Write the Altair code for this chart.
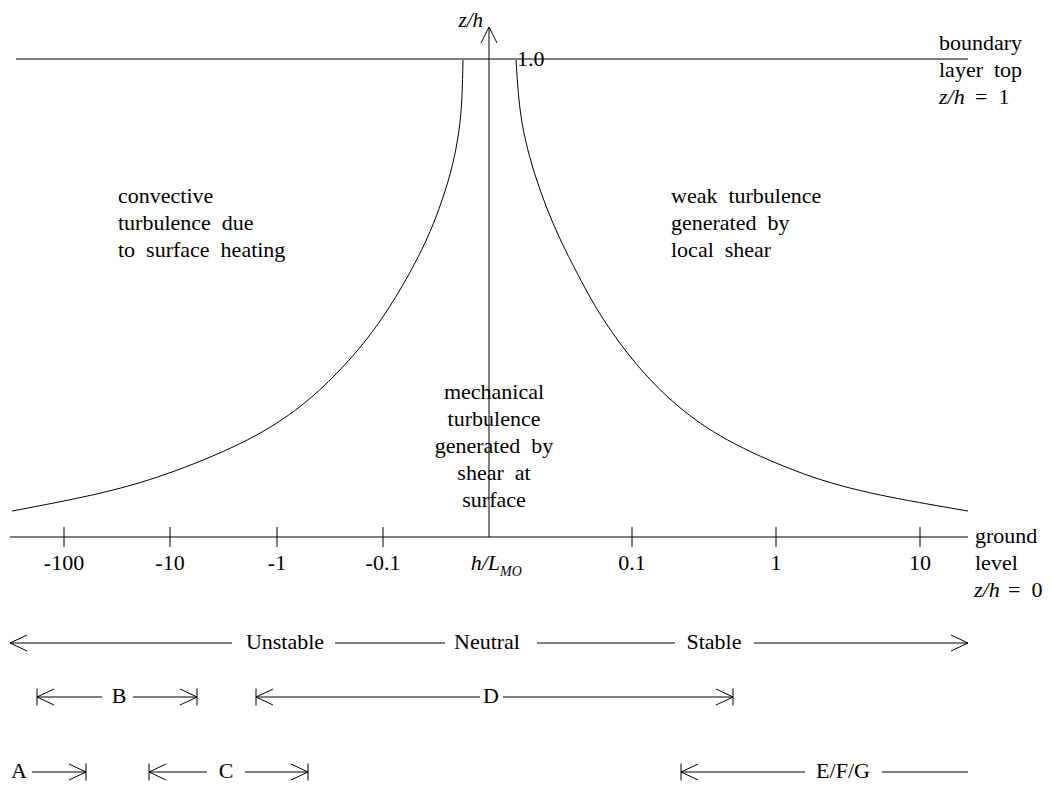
import altair as alt
import pandas as pd

# ---------------- diagram geometry (reference pixel frame) ----------------
W, H = 1035, 775
FONT = "Liberation Serif"
FS = 22

# boundary-layer top and ground level
top_y, ground_y = 59, 537
top_x = [16, 968]
ground_x = [10, 968]
axis_x, axis_top = 489, 27

# h/L_MO tick marks and labels
tick_labels = ["-100", "-10", "-1", "-0.1", "0.1", "1", "10"]
tick_x = [64, 170, 277, 383, 632, 776, 920]

# stability-regime curves
left_curve_x = [12, 107, 173, 252, 302, 338, 367, 390, 410, 427, 440, 451, 458, 462, 463]
left_curve_y = [511, 493, 473, 440, 407, 373, 340, 307, 273, 240, 207, 173, 140, 107, 60]
right_curve_x = [516, 519, 525, 534, 546, 560, 577, 595, 617, 643, 677, 723, 797, 863, 968]
right_curve_y = [60, 107, 140, 173, 207, 240, 273, 307, 340, 373, 407, 440, 473, 493, 511]

# bottom range arrows: row level, line pieces, end markers, labels
row_y = [643, 697, 772]
row_lines = [
    [(10, 232), (335, 445), (537, 675), (754, 968)],
    [(37, 102), (133, 197), (256, 480), (503, 733)],
    [(32, 86), (149, 207), (245, 308), (681, 805), (882, 968)],
]
# (x, direction, with_bar)
row_heads = [
    [(10, "left", False), (968, "right", False)],
    [(37, "left", True), (197, "right", True), (256, "left", True), (733, "right", True)],
    [(86, "right", True), (149, "left", True), (308, "right", True), (681, "left", True)],
]
row_labels = [
    [("Unstable", 285), ("Neutral", 487), ("Stable", 714)],
    [("B", 119), ("D", 491)],
    [("A", 19), ("C", 226), ("E/F/G", 843)],
]

# ---------------- build segment table ----------------
segs = []


def seg(x1, y1, x2, y2):
    segs.append({"x": x1, "y": y1, "x2": x2, "y2": y2})


seg(top_x[0], top_y, top_x[1], top_y)
seg(ground_x[0], ground_y, ground_x[1], ground_y)
seg(axis_x, ground_y, axis_x, axis_top)
seg(axis_x, axis_top, axis_x - 8, axis_top + 16)
seg(axis_x, axis_top, axis_x + 8, axis_top + 16)
for tx in tick_x:
    seg(tx, ground_y - 10, tx, ground_y + 10)

HX, HY, BAR = 17, 8, 8.5
for ry, lines, heads in zip(row_y, row_lines, row_heads):
    for a, b in lines:
        seg(a, ry, b, ry)
    for hx, d, bar in heads:
        s = 1 if d == "left" else -1
        seg(hx, ry, hx + s * HX, ry - HY)
        seg(hx, ry, hx + s * HX, ry + HY)
        if bar:
            seg(hx, ry - BAR, hx, ry + BAR)

seg_df = pd.DataFrame(segs)

curve_df = pd.concat([
    pd.DataFrame({"x": left_curve_x, "y": left_curve_y, "c": "left",
                  "o": range(len(left_curve_x))}),
    pd.DataFrame({"x": right_curve_x, "y": right_curve_y, "c": "right",
                  "o": range(len(right_curve_x))}),
])

# ---------------- texts ----------------
left_texts = [
    ("convective", 118, 203),
    ("turbulence\u00a0\u00a0due", 118, 230),
    ("to\u00a0\u00a0surface\u00a0\u00a0heating", 118, 257),
    ("weak\u00a0\u00a0turbulence", 671, 203),
    ("generated\u00a0\u00a0by", 671, 230),
    ("local\u00a0\u00a0shear", 671, 257),
    ("boundary", 939, 50),
    ("layer\u00a0\u00a0top", 939, 77),
    ("=\u00a0\u00a01", 975, 104),
    ("ground", 975, 543),
    ("level", 975, 570),
    ("=\u00a0\u00a00", 1008, 597),
    ("1.0", 517, 66),
]
center_texts = [
    ("mechanical", 494, 399),
    ("turbulence", 494, 426),
    ("generated\u00a0\u00a0by", 494, 453),
    ("shear\u00a0\u00a0at", 494, 480),
    ("surface", 494, 507),
]
center_texts += [(t, x, 570) for t, x in zip(tick_labels, tick_x)]
for ry, labs in zip(row_y, row_labels):
    center_texts += [(t, x, ry + 6) for t, x in labs]

italic_left = [("z/h", 939, 104), ("z/h", 974, 597)]
italic_right = [("h/L", 500, 570)]
axis_title = [("z/h", 483, 27)]
sub_texts = [("MO", 500, 576)]


def tdf(rows):
    return pd.DataFrame(rows, columns=["t", "x", "y"])


xs = alt.Scale(domain=[8, 8 + W], range=[0, W], nice=False, zero=False)
ys = alt.Scale(domain=[8, 8 + H], range=[0, H], nice=False, zero=False)
X = alt.X("x:Q", scale=xs, axis=None)
Y = alt.Y("y:Q", scale=ys, axis=None)

rules = alt.Chart(seg_df).mark_rule(color="black", strokeWidth=1).encode(
    x=X, y=Y, x2="x2:Q", y2="y2:Q"
)
curves = alt.Chart(curve_df).mark_line(
    color="black", strokeWidth=1, interpolate="basis"
).encode(x=X, y=Y, detail="c:N", order="o:Q")


def text_layer(rows, align, style="normal", size=FS):
    return alt.Chart(tdf(rows)).mark_text(
        font=FONT, fontSize=size, fontStyle=style, align=align,
        baseline="alphabetic", color="black"
    ).encode(x=X, y=Y, text="t:N")


chart = alt.layer(
    rules,
    curves,
    text_layer(left_texts, "left"),
    text_layer(center_texts, "center"),
    text_layer(italic_left, "left", "italic"),
    text_layer(italic_right, "right", "italic"),
    text_layer(axis_title, "right", "italic", 21),
    text_layer(sub_texts, "left", "italic", 14),
).properties(
    width=W, height=H, padding=0,
    autosize=alt.AutoSizeParams(type="none"),
).configure_view(stroke=None)

chart.save("out.html", embed_options={"renderer": "svg", "actions": False})
